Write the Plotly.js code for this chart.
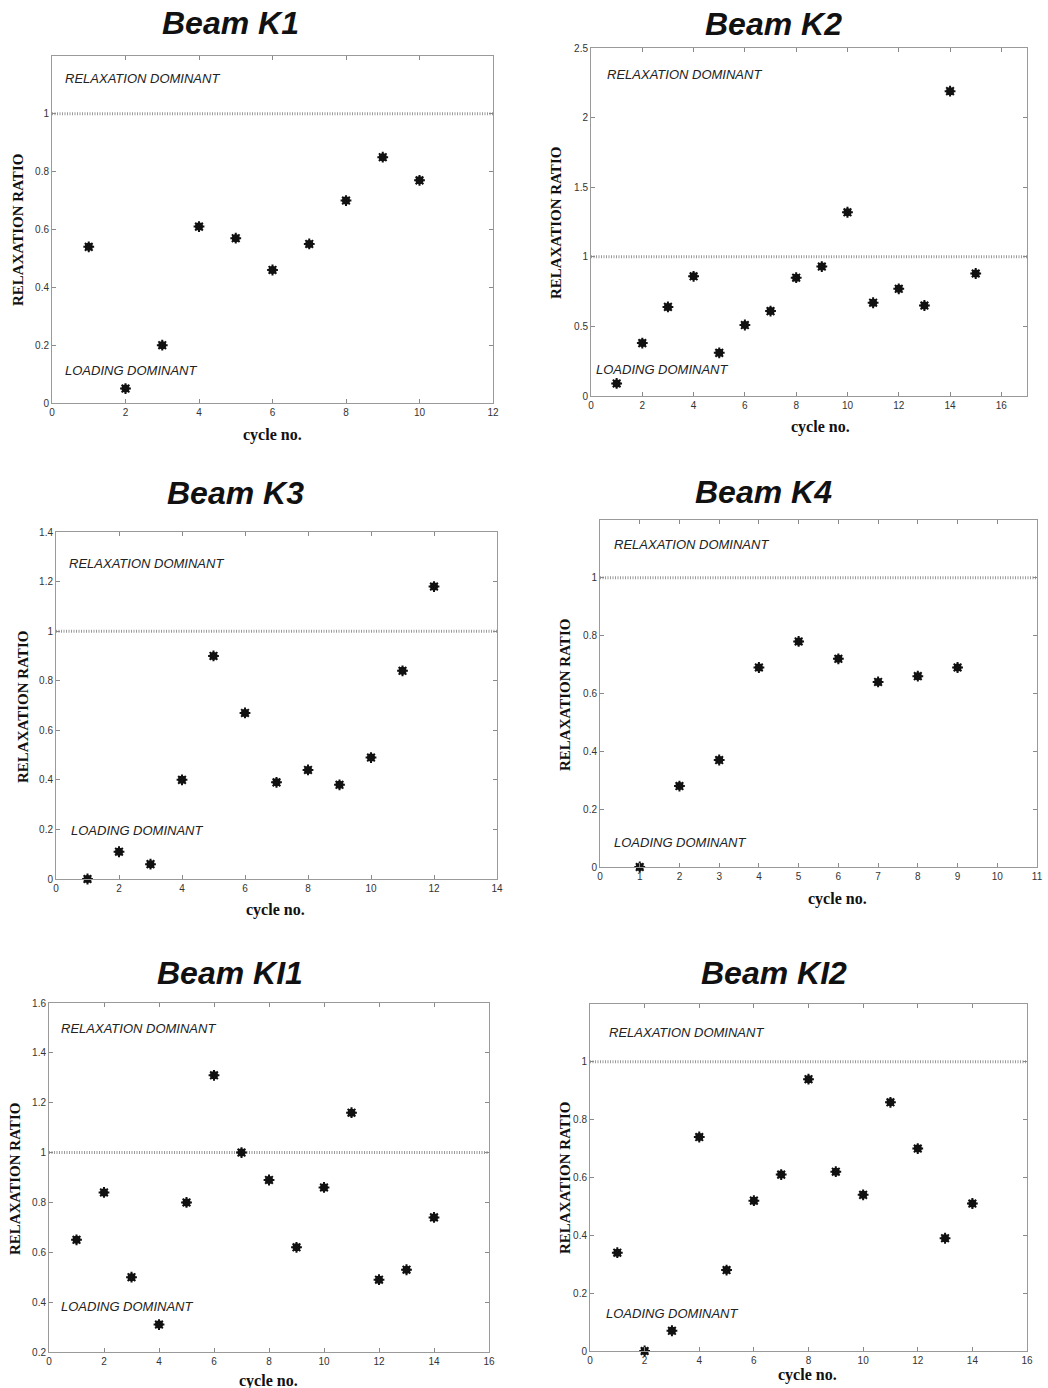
<!DOCTYPE html>
<html>
<head>
<meta charset="utf-8">
<script src="https://cdn.plot.ly/plotly-3.0.1.min.js"></script>
<style>html,body{margin:0;padding:0;background:#fff;}#chart{width:1048px;height:1388px;}</style>
</head>
<body>
<div id="chart"></div>
<script>
// ---- Data ----
const titles = ["Beam K1", "Beam K2", "Beam K3", "Beam K4", "Beam KI1", "Beam KI2"];
const cyclesK1 = [1, 2, 3, 4, 5, 6, 7, 8, 9, 10];
const ratioK1 = [0.54, 0.05, 0.20, 0.61, 0.57, 0.46, 0.55, 0.70, 0.85, 0.77];
const cyclesK2 = [1, 2, 3, 4, 5, 6, 7, 8, 9, 10, 11, 12, 13, 14, 15];
const ratioK2 = [0.09, 0.38, 0.64, 0.86, 0.31, 0.51, 0.61, 0.85, 0.93, 1.32, 0.67, 0.77, 0.65, 2.19, 0.88];
const cyclesK3 = [1, 2, 3, 4, 5, 6, 7, 8, 9, 10, 11, 12];
const ratioK3 = [0.00, 0.11, 0.06, 0.40, 0.90, 0.67, 0.39, 0.44, 0.38, 0.49, 0.84, 1.18];
const cyclesK4 = [1, 2, 3, 4, 5, 6, 7, 8, 9];
const ratioK4 = [0.00, 0.28, 0.37, 0.69, 0.78, 0.72, 0.64, 0.66, 0.69];
const cyclesKI1 = [1, 2, 3, 4, 5, 6, 7, 8, 9, 10, 11, 12, 13, 14];
const ratioKI1 = [0.65, 0.84, 0.50, 0.31, 0.80, 1.31, 1.00, 0.89, 0.62, 0.86, 1.16, 0.49, 0.53, 0.74];
const cyclesKI2 = [1, 2, 3, 4, 5, 6, 7, 8, 9, 10, 11, 12, 13, 14];
const ratioKI2 = [0.34, 0.00, 0.07, 0.74, 0.28, 0.52, 0.61, 0.94, 0.62, 0.54, 0.86, 0.70, 0.39, 0.51];
const xRanges = [[0, 12], [0, 17], [0, 14], [0, 11], [0, 16], [0, 16]];
const yRanges = [[0, 1.2], [0, 2.5], [0, 1.4], [0, 1.2], [0.2, 1.6], [0, 1.2]];
const xTicks = [[0,2,4,6,8,10,12],[0,2,4,6,8,10,12,14,16],[0,2,4,6,8,10,12,14],[0,1,2,3,4,5,6,7,8,9,10,11],[0,2,4,6,8,10,12,14,16],[0,2,4,6,8,10,12,14,16]];
const yTicks = [[0,0.2,0.4,0.6,0.8,1],[0,0.5,1,1.5,2,2.5],[0,0.2,0.4,0.6,0.8,1,1.2,1.4],[0,0.2,0.4,0.6,0.8,1],[0.2,0.4,0.6,0.8,1,1.2,1.4,1.6],[0,0.2,0.4,0.6,0.8,1]];
const thresholdRatio = 1;
const yLabel = "RELAXATION RATIO";
const xLabel = "cycle no.";
const upperText = "RELAXATION DOMINANT";
const lowerText = "LOADING DOMINANT";

const series = [
  [cyclesK1, ratioK1], [cyclesK2, ratioK2], [cyclesK3, ratioK3],
  [cyclesK4, ratioK4], [cyclesKI1, ratioKI1], [cyclesKI2, ratioKI2]
];

// ---- Layout geometry (pixels in 1048x1388 page) ----
const W = 1048, H = 1388;
const boxes = [
  {l: 52, r: 493, t: 56, b: 403},
  {l: 591, r: 1027, t: 48, b: 396},
  {l: 56, r: 497, t: 532, b: 879},
  {l: 600, r: 1037, t: 520, b: 867},
  {l: 49, r: 489, t: 1003, b: 1352},
  {l: 590, r: 1027, t: 1004, b: 1351}
];
const titlePos = [[230, 23], [773, 24], [235, 493], [763, 492], [230, 973], [774, 973]];
const yLabPos = [[18, 230], [556, 223], [23, 707], [565, 695], [15, 1179], [565, 1178]];
const xLabPos = [[272, 435], [820, 427], [275, 910], [837, 899], [268, 1381], [807, 1375]];
const upperPos = [[0.025, 0.934], [0.033, 0.924], [0.024, 0.908], [0.028, 0.928], [0.023, 0.926], [0.040, 0.917]];
const lowerPos = [[0.025, 0.095], [0.008, 0.076], [0.030, 0.140], [0.028, 0.072], [0.023, 0.129], [0.032, 0.108]];

const px = v => v / W;
const py = v => 1 - v / H;

const data = [];
const layout = {
  width: W, height: H,
  margin: {l: 0, r: 0, t: 0, b: 0},
  paper_bgcolor: "#fff", plot_bgcolor: "#fff",
  showlegend: false,
  font: {family: "Liberation Sans, Arial, sans-serif", color: "#333"},
  annotations: [], shapes: []
};

series.forEach((s, i) => {
  const n = i === 0 ? "" : String(i + 1);
  const xa = "x" + n, ya = "y" + n;
  const b = boxes[i];
  data.push({
    x: s[0], y: s[1], xaxis: xa, yaxis: ya, type: "scatter", mode: "markers",
    marker: {symbol: "circle", size: 8, color: "#111", line: {width: 0}},
    hoverinfo: "x+y", cliponaxis: false
  });
  data.push({
    x: s[0], y: s[1], xaxis: xa, yaxis: ya, type: "scatter", mode: "markers",
    marker: {symbol: "asterisk-open", size: 9, color: "#111", line: {width: 2, color: "#111"}},
    hoverinfo: "skip", cliponaxis: false
  });
  const axCommon = {
    showgrid: false, zeroline: false, showline: true, linecolor: "#9a9a9a", linewidth: 1,
    mirror: "ticks", ticks: "inside", ticklen: 4, tickcolor: "#8a8a8a", tickwidth: 1,
    tickfont: {size: 10, color: "#333", family: "Liberation Sans, Arial, sans-serif"},
    fixedrange: true
  };
  layout["xaxis" + n] = Object.assign({}, axCommon, {
    domain: [px(b.l), px(b.r)], range: xRanges[i], anchor: ya,
    tickmode: "array", tickvals: xTicks[i], ticktext: xTicks[i].map(String)
  });
  layout["yaxis" + n] = Object.assign({}, axCommon, {
    domain: [py(b.b), py(b.t)], range: yRanges[i], anchor: xa,
    tickmode: "array", tickvals: yTicks[i], ticktext: yTicks[i].map(String)
  });
  // threshold line at ratio = 1
  layout.shapes.push({
    type: "line", xref: xa + " domain", yref: ya, x0: 0, x1: 1, y0: thresholdRatio, y1: thresholdRatio,
    line: {color: "#9a9a9a", width: 3, dash: "1px,1.5px"}, layer: "below"
  });
  // titles and labels
  layout.annotations.push({
    text: "<b><i>" + titles[i] + "</i></b>", xref: "paper", yref: "paper",
    x: px(titlePos[i][0]), y: py(titlePos[i][1]), xanchor: "center", yanchor: "middle",
    showarrow: false, font: {size: 32, color: "#111", family: "Liberation Sans, Arial, sans-serif"}
  });
  layout.annotations.push({
    text: "<b>" + yLabel + "</b>", xref: "paper", yref: "paper", textangle: -90,
    x: px(yLabPos[i][0]), y: py(yLabPos[i][1]), xanchor: "center", yanchor: "middle",
    showarrow: false, font: {size: 15, color: "#111", family: "Liberation Serif, Times New Roman, serif"}
  });
  layout.annotations.push({
    text: "<b>" + xLabel + "</b>", xref: "paper", yref: "paper",
    x: px(xLabPos[i][0]), y: py(xLabPos[i][1]), xanchor: "center", yanchor: "middle",
    showarrow: false, font: {size: 16, color: "#111", family: "Liberation Serif, Times New Roman, serif"}
  });
  layout.annotations.push({
    text: "<i>" + upperText + "</i>", xref: xa + " domain", yref: ya + " domain",
    x: upperPos[i][0], y: upperPos[i][1], xanchor: "left", yanchor: "middle",
    showarrow: false, font: {size: 13, color: "#222", family: "Liberation Sans, Arial, sans-serif"}
  });
  layout.annotations.push({
    text: "<i>" + lowerText + "</i>", xref: xa + " domain", yref: ya + " domain",
    x: lowerPos[i][0], y: lowerPos[i][1], xanchor: "left", yanchor: "middle",
    showarrow: false, font: {size: 13, color: "#222", family: "Liberation Sans, Arial, sans-serif"}
  });
});

Plotly.newPlot("chart", data, layout, {staticPlot: true, displayModeBar: false});
</script>
</body>
</html>
